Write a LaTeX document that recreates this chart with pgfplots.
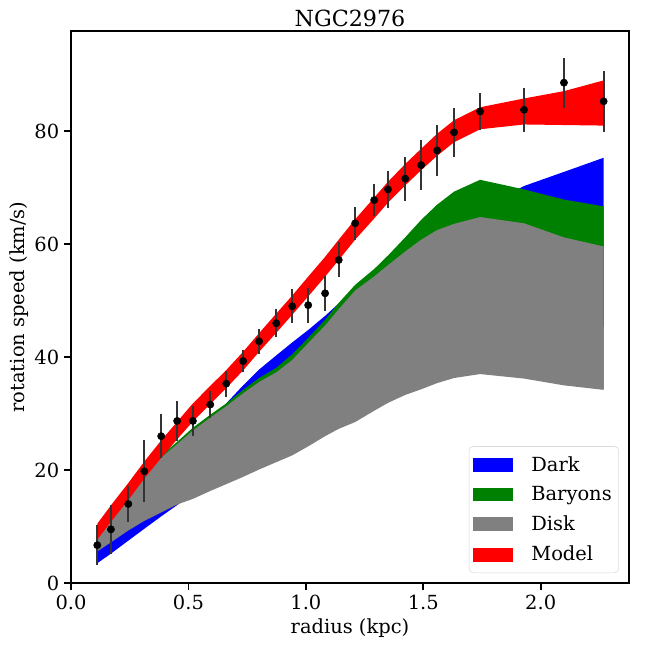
\documentclass[border=0pt]{standalone}
\usepackage{fontspec}
\setmainfont{DejaVu Serif}
\usepackage{pgfplots}
\usepackage{pgfplotstable}
\pgfplotsset{compat=1.18}
\usepgfplotslibrary{fillbetween}

\pgfplotstableread{
r dlo dhi glo ghi klo khi mlo mhi
0.112 3.5 6.0 5.8 8.1 5.6 8.0 7.7 10.5
0.170 5.2 8.8 7.4 11.4 7.2 11.2 10.85 13.75
0.244 7.5 12.3 9.5 15.7 9.3 15.4 14.7 17.7
0.312 9.6 15.5 11.2 19.8 11.0 19.5 18.5 21.5
0.384 11.8 18.8 12.7 22.6 12.5 22.2 22.15 25.25
0.452 13.8 22.0 14.1 25.0 13.9 24.6 25.45 28.55
0.519 15.8 25.0 15.1 27.5 14.9 27.0 28.6 31.8
0.593 17.8 28.2 16.5 29.8 16.3 29.3 31.7 34.9
0.661 19.7 31.8 17.7 31.8 17.5 31.3 34.5 37.7
0.733 21.6 35.0 19.0 34.2 18.8 33.6 37.65 40.95
0.801 23.4 37.8 20.3 36.3 20.1 35.6 40.95 44.25
0.874 25.2 40.3 21.6 38.1 21.4 37.3 44.3 47.7
0.942 27.0 42.6 22.8 40.5 22.6 39.5 47.5 50.9
1.010 28.7 44.8 24.4 43.4 24.2 42.5 50.75 54.25
1.082 30.3 47.3 26.2 46.6 26.0 45.6 54.25 57.75
1.140 31.7 49.5 27.5 49.6 27.3 48.5 57.2 60.8
1.210 33.3 52.0 28.7 52.8 28.5 51.8 60.8 64.4
1.291 35.0 54.3 30.7 55.6 30.5 54.3 64.55 68.25
1.350 36.2 56.0 32.1 58.0 31.9 56.3 67.35 71.05
1.423 37.6 58.2 33.5 61.2 33.3 58.7 70.4 74.2
1.491 38.9 60.2 34.5 64.3 34.3 60.8 73.1 76.9
1.559 40.1 62.0 35.6 67.0 35.4 62.5 75.65 79.55
1.631 41.3 63.8 36.5 69.3 36.3 63.6 78.05 81.95
1.742 43.0 66.2 37.2 71.4 37.0 64.8 80.35 84.25
1.929 45.2 70.3 36.4 69.7 36.2 63.7 81.2 85.8
2.099 46.0 72.8 35.2 67.9 35.0 61.2 81.1 87.1
2.268 45.5 75.3 34.4 66.7 34.2 59.6 81.0 89.0
}\model

\pgfplotstableread{
r v e
0.112 6.7 3.5
0.170 9.5 4.3
0.244 14.0 3.2
0.312 19.8 5.5
0.384 26.0 3.9
0.452 28.7 3.5
0.519 28.7 2.7
0.593 31.6 2.4
0.661 35.3 2.3
0.733 39.3 2.0
0.801 42.8 2.2
0.874 46.0 2.5
0.942 49.0 3.0
1.010 49.2 3.1
1.082 51.3 3.1
1.140 57.2 3.1
1.210 63.7 2.9
1.291 67.8 2.8
1.350 69.7 3.3
1.423 71.6 3.9
1.491 74.0 4.4
1.559 76.6 4.5
1.631 79.8 4.4
1.742 83.5 3.3
1.929 83.8 3.9
2.099 88.6 4.4
2.268 85.3 5.4
}\obs

\definecolor{mblue}{HTML}{0000FF}
\definecolor{mgreen}{HTML}{008000}
\definecolor{mgray}{HTML}{808080}
\definecolor{mred}{HTML}{FF0000}

\begin{document}
\begin{tikzpicture}
\begin{axis}[
  at={(51.12pt,46.8pt)}, anchor=south west,
  scale only axis, width=401.76pt, height=397.44pt,
  xmin=0, xmax=2.376, ymin=0, ymax=97.75,
  axis line style={line width=1.4pt},
  every tick/.style={line width=1.2pt, black},
  major tick length=5pt,
  tick align=outside,
  xtick pos=left, ytick pos=left,
  xtick={0,0.5,1,1.5,2}, xticklabels={0.0,0.5,1.0,1.5,2.0},
  ytick={0,20,40,60,80},
  /pgf/number format/assume math mode=true,
  tick label style={font=\fontsize{14}{16}\selectfont},
  xlabel={radius (kpc)}, ylabel={rotation speed (km/s)},
  label style={font=\fontsize{14}{16}\selectfont},
  ylabel style={yshift=-3pt},
  title={NGC2976},
  title style={font=\fontsize{16}{18}\selectfont, at={(0.5,1)}, anchor=base, yshift=-2.5pt},
  legend cell align=left,
  legend image code/.code={\fill[#1, sharp corners, draw=none] (0pt,-5pt) rectangle (28.8pt,5pt);},
  legend style={at={(0.982,0.018)}, anchor=south east, draw=black!15,
    rounded corners=3pt, font=\fontsize{14}{16}\selectfont,
    row sep=5.6pt, inner xsep=3pt, inner ysep=5pt,
    /tikz/every odd column/.append style={column sep=11pt}},
]
\addplot[draw=none, name path=dlo, forget plot] table[x=r,y=dlo]{\model};
\addplot[draw=none, name path=dhi, forget plot] table[x=r,y=dhi]{\model};
\addplot[draw=none, name path=glo, forget plot] table[x=r,y=glo]{\model};
\addplot[draw=none, name path=ghi, forget plot] table[x=r,y=ghi]{\model};
\addplot[draw=none, name path=klo, forget plot] table[x=r,y=klo]{\model};
\addplot[draw=none, name path=khi, forget plot] table[x=r,y=khi]{\model};
\addplot[draw=none, name path=mlo, forget plot] table[x=r,y=mlo]{\model};
\addplot[draw=none, name path=mhi, forget plot] table[x=r,y=mhi]{\model};
\addplot[mblue, draw=none, forget plot] fill between[of=dhi and dlo];
\addplot[mgreen, draw=none, forget plot] fill between[of=ghi and glo];
\addplot[mgray, draw=none, forget plot] fill between[of=khi and klo];
\addplot[mred, draw=none, forget plot] fill between[of=mhi and mlo];
\addplot[only marks, mark=*, mark size=2.6pt, black, forget plot,
  error bars/.cd, y dir=both, y explicit, error mark=none,
  error bar style={line width=1.3pt, black!80}]
  table[x=r, y=v, y error=e]{\obs};
\addlegendimage{fill=mblue}
\addlegendentry{Dark}
\addlegendimage{fill=mgreen}
\addlegendentry{Baryons}
\addlegendimage{fill=mgray}
\addlegendentry{Disk}
\addlegendimage{fill=mred}
\addlegendentry{Model}
\end{axis}
\pgfresetboundingbox
\path[use as bounding box] (0,0) rectangle (466.56pt,466.56pt);
\end{tikzpicture}
\end{document}
